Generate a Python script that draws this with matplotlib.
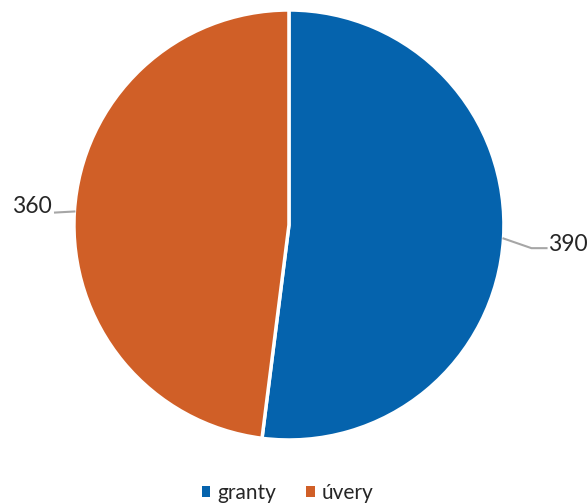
import numpy as np
import matplotlib
matplotlib.use("Agg")
import matplotlib.pyplot as plt
from matplotlib.patches import Patch

categories = ["granty", "úvery"]
values = [390, 360]
colors = ["#0563AD", "#D05F27"]

plt.rcParams["font.family"] = ["Lato", "DejaVu Sans"]

fig = plt.figure(figsize=(5.87, 5.04), dpi=100)
ax = fig.add_axes([0.126, 0.127, 0.7325, 0.8532])

wedges, _ = ax.pie(values, colors=colors, startangle=90, counterclock=False,
                   wedgeprops=dict(edgecolor="white", linewidth=2.5))
ax.set_xlim(-1, 1)
ax.set_ylim(-1, 1)
ax.set_aspect("equal")
ax.axis("off")

# value labels with grey leader lines
total = sum(values)
start = 90.0
line_kw = dict(color="#A6A6A6", lw=1.5, clip_on=False)
for i, (w, v) in enumerate(zip(wedges, values)):
    span = 360.0 * v / total
    mid = np.deg2rad(start - span / 2)
    start -= span
    x, y = np.cos(mid), np.sin(mid)
    if x > 0:
        ax.plot([x, x + 0.13, x + 0.2], [y, y - 0.045, y - 0.045], **line_kw)
        ax.text(x + 0.205, y - 0.03, str(v), ha="left", va="center",
                fontsize=16.5, color="#262626")
    else:
        ax.plot([x, x - 0.09], [y, y - 0.005], **line_kw)
        ax.text(x - 0.105, y + 0.025, str(v), ha="right", va="center",
                fontsize=16.5, color="#262626")

handles = [Patch(facecolor=c) for c in colors]
fig.legend(handles, categories, loc="center", bbox_to_anchor=(0.49, 0.022),
           ncol=2, frameon=False, fontsize=15, handlelength=0.42, handleheight=0.42,
           handletextpad=0.35, columnspacing=1.4, labelcolor="#262626")

fig.savefig("out.png", dpi=100)
